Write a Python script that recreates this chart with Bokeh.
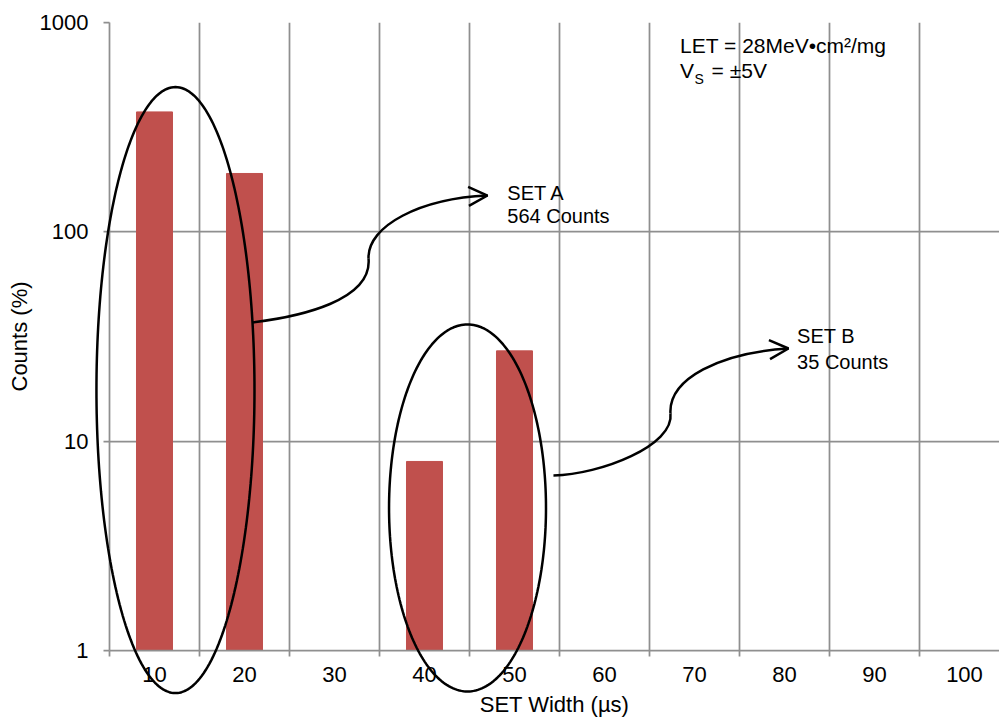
import numpy as np
from bokeh.plotting import figure
from bokeh.models import (FixedTicker, Label, Arrow, OpenHead,
                          ColumnDataSource, Range1d)
from bokeh.embed import file_html
from bokeh.resources import INLINE

# ---- data ----
x_categories = [10, 20, 30, 40, 50, 60, 70, 80, 90, 100]
x_tick_labels = ["10", "20", "30", "40", "50", "60", "70", "80", "90", "100"]
bar_widths_us = [10, 20, 40, 50]
bar_counts = [374, 190, 8, 27]
y_ticks = [1, 10, 100, 1000]
y_tick_labels = ["1", "10", "100", "1000"]

# annotation geometry (data units; y on log axis)
ellipse_a = dict(cx=12.33, ax=8.78, cy_log=1.244, by_log=1.4475)
ellipse_b = dict(cx=44.78, ax=8.72, cy_log=0.681, by_log=0.8766)
# bezier segments: (x0, y0, cx0, cy0, cx1, cy1, x1, y1)
arrow_a_segs = [(20.89, 36.88, 26.22, 39.41, 34.22, 46.99, 33.78, 74.6),
                (33.78, 74.6, 33.67, 107.2, 39.56, 144.3, 47.0, 149.1)]
arrow_b_segs = [(54.33, 6.855, 59.56, 6.93, 67.78, 9.535, 67.33, 13.56),
                (67.33, 13.56, 67.11, 19.93, 72.89, 26.52, 80.44, 27.71)]

FONT = "Liberation Sans"
GRID = "#8F8F8F"
BAR = "#C0504D"

p = figure(width=999, height=722, y_axis_type="log",
           x_range=Range1d(5, 103.89), y_range=Range1d(1, 1000),
           output_backend="svg", toolbar_location=None,
           min_border_left=109, min_border_right=0,
           min_border_top=22, min_border_bottom=72)
p.outline_line_color = None
p.background_fill_color = "white"
p.border_fill_color = "white"

src = ColumnDataSource(dict(x=bar_widths_us, top=bar_counts))
p.vbar(x="x", top="top", bottom=1, width=4, source=src,
       fill_color=BAR, line_color=BAR)

# x axis
boundaries = [c - 5 for c in x_categories] + [x_categories[-1] + 5]
xa = p.xaxis[0]
xa.ticker = FixedTicker(ticks=x_categories, minor_ticks=boundaries)
xa.major_label_overrides = {c: l for c, l in zip(x_categories, x_tick_labels)}
xa.major_tick_out = 0
xa.major_tick_in = 0
xa.minor_tick_out = 6
xa.minor_tick_in = 0
xa.minor_tick_line_color = GRID
xa.minor_tick_line_width = 1.75
xa.axis_line_color = GRID
xa.axis_line_width = 1.75
xa.major_label_standoff = 10
xa.major_label_text_font = FONT
xa.major_label_text_font_size = "22px"
xa.major_label_text_color = "black"
xa.axis_label = "SET Width (µs)"
xa.axis_label_text_font = FONT
xa.axis_label_text_font_size = "22px"
xa.axis_label_text_font_style = "normal"
xa.axis_label_text_color = "black"
xa.axis_label_standoff = 7

# y axis
ya = p.yaxis[0]
ya.ticker = FixedTicker(ticks=y_ticks, minor_ticks=[])
ya.major_label_overrides = {t: l for t, l in zip(y_ticks, y_tick_labels)}
ya.major_tick_out = 6
ya.major_tick_in = 0
ya.major_tick_line_color = GRID
ya.major_tick_line_width = 1.75
ya.minor_tick_out = 0
ya.minor_tick_in = 0
ya.axis_line_color = GRID
ya.axis_line_width = 1.75
ya.major_label_standoff = 15
ya.major_label_text_font = FONT
ya.major_label_text_font_size = "22px"
ya.major_label_text_color = "black"
ya.axis_label = "Counts (%)"
ya.axis_label_text_font = FONT
ya.axis_label_text_font_size = "22px"
ya.axis_label_text_font_style = "normal"
ya.axis_label_text_color = "black"
ya.axis_label_standoff = 5

# grids
p.xgrid[0].ticker = FixedTicker(ticks=boundaries[1:-1])
p.xgrid[0].grid_line_color = GRID
p.xgrid[0].grid_line_width = 1.75
p.ygrid[0].grid_line_color = GRID
p.ygrid[0].grid_line_width = 1.75

# ellipses (overlay level so they are not clipped to the frame)
t = np.linspace(0, 2 * np.pi, 241)
for e in (ellipse_a, ellipse_b):
    xs = e["cx"] + e["ax"] * np.cos(t)
    ys = 10 ** (e["cy_log"] + e["by_log"] * np.sin(t))
    p.line(x=list(xs), y=list(ys), line_color="black", line_width=2.5,
           level="overlay")

# curved arrows
for segs in (arrow_a_segs, arrow_b_segs):
    for (x0, y0, cx0, cy0, cx1, cy1, x1, y1) in segs:
        p.bezier(x0=[x0], y0=[y0], cx0=[cx0], cy0=[cy0], cx1=[cx1], cy1=[cy1],
                 x1=[x1], y1=[y1], line_color="black", line_width=2.5)
    x0, y0, cx0, cy0, cx1, cy1, x1, y1 = segs[-1]
    p.add_layout(Arrow(end=OpenHead(size=19, line_width=2.5, line_color="black"),
                       x_start=cx1, y_start=cy1, x_end=x1, y_end=y1,
                       line_alpha=0))

def lab(x, y, text, size="20px"):
    p.add_layout(Label(x=x, y=y, text=text, text_font=FONT, text_font_size=size,
                       text_color="black", text_baseline="alphabetic",
                       text_align="left"))

lab(49.2, 154, "SET A")
lab(49.2, 119.6, "564 Counts")
lab(81.4, 31.9, "SET B")
lab(81.4, 23.8, "35 Counts")
lab(68.4, 776, "LET = 28MeV•cm²/mg", size="21px")
lab(68.4, 590, "V", size="21px")
lab(70.0, 539, "S", size="14px")
lab(71.9, 590, "= ±5V", size="21px")

open("out.html", "w").write(file_html(p, INLINE))
